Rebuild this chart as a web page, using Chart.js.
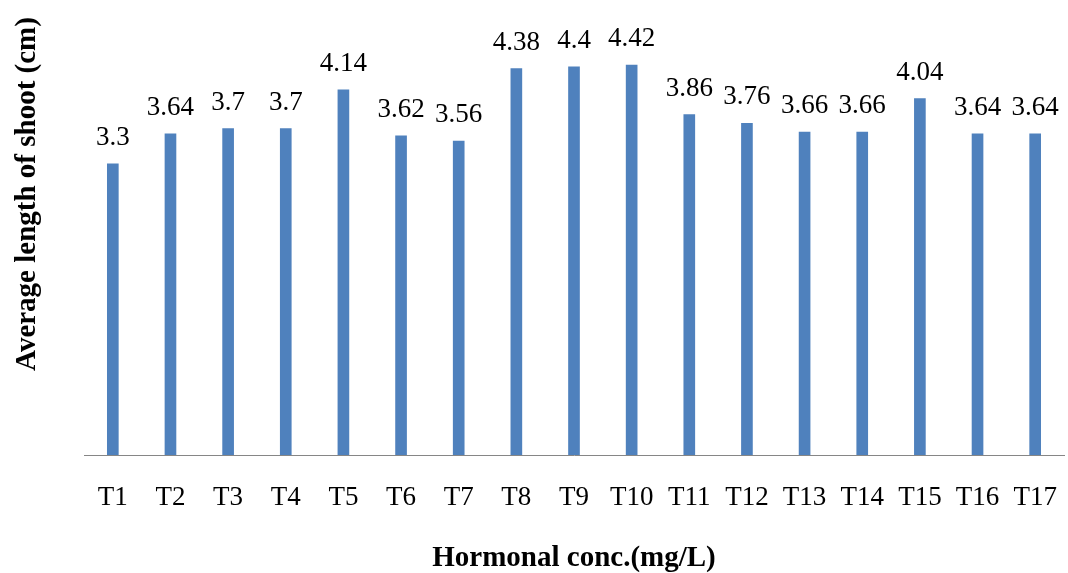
<!DOCTYPE html>
<html>
<head>
<meta charset="utf-8">
<script src="https://cdn.jsdelivr.net/npm/chart.js@4/dist/chart.umd.min.js"></script>
<style>
  body { margin: 0; background: #fff; }
</style>
</head>
<body>
<canvas id="barChart" width="1068" height="573"></canvas>
<script>
// data
const treatments = ['T1', 'T2', 'T3', 'T4', 'T5', 'T6', 'T7', 'T8', 'T9', 'T10', 'T11', 'T12', 'T13', 'T14', 'T15', 'T16', 'T17'];
const shootLength = [3.3, 3.64, 3.7, 3.7, 4.14, 3.62, 3.56, 4.38, 4.4, 4.42, 3.86, 3.76, 3.66, 3.66, 4.04, 3.64, 3.64];
const yTitle = 'Average length of shoot (cm)';
const xTitle = 'Hormonal conc.(mg/L)';

const serif = '"Liberation Serif", "Times New Roman", serif';

// values above each bar + the y title (it sits higher than the plot centre)
const labelsPlugin = {
  id: 'labelsPlugin',
  afterDatasetsDraw(chart) {
    const ctx = chart.ctx;
    const meta = chart.getDatasetMeta(0);
    ctx.save();
    ctx.font = '27px ' + serif;
    ctx.fillStyle = '#000';
    ctx.textAlign = 'center';
    ctx.textBaseline = 'alphabetic';
    meta.data.forEach((bar, i) => {
      ctx.fillText(String(shootLength[i]), bar.x, bar.y - 19);
    });
    ctx.restore();

    ctx.save();
    ctx.font = 'bold 29px ' + serif;
    ctx.fillStyle = '#000';
    ctx.textAlign = 'center';
    ctx.textBaseline = 'middle';
    ctx.translate(28, 194);
    ctx.rotate(-Math.PI / 2);
    ctx.fillText(yTitle, 0, 0);
    ctx.restore();
  }
};

const ctxBar = document.getElementById('barChart');
new Chart(ctxBar, {
  type: 'bar',
  data: {
    labels: treatments,
    datasets: [{
      data: shootLength,
      backgroundColor: '#4F81BD',
      barThickness: 11
    }]
  },
  options: {
    responsive: false,
    animation: false,
    layout: { padding: { left: 84, right: 4, top: 14, bottom: 0 } },
    plugins: { legend: { display: false }, tooltip: { enabled: false } },
    scales: {
      x: {
        grid: { display: false },
        border: { display: true, color: '#868686', width: 1 },
        ticks: { color: '#000', font: { family: serif, size: 27 }, padding: 19, maxRotation: 0 },
        title: {
          display: true,
          text: xTitle,
          color: '#000',
          font: { family: serif, size: 29, weight: 'bold', lineHeight: 1 },
          padding: { top: 0, bottom: 0 }
        },
        afterFit(axis) {
          axis.height = 118;
          axis.paddingLeft = 0;
          axis.paddingRight = 0;
        }
      },
      y: {
        display: false,
        min: 0,
        max: 5
      }
    }
  },
  plugins: [labelsPlugin]
});
</script>
</body>
</html>
